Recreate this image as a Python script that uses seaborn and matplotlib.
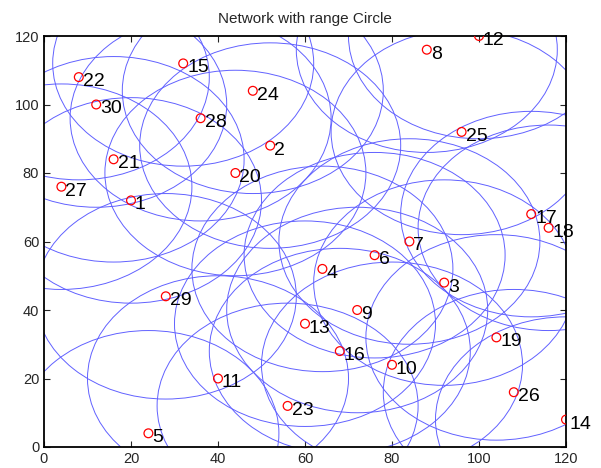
import numpy as np
import pandas as pd
import seaborn as sns
import matplotlib
matplotlib.use("Agg")
import matplotlib.pyplot as plt
from matplotlib.patches import Circle

# Node coordinates (node id = position in the list + 1)
node_x = [20, 52, 92, 64, 24, 76, 84, 88, 72, 80,
          40, 100, 60, 120, 32, 68, 112, 116, 104, 44,
          16, 8, 56, 48, 96, 108, 4, 36, 28, 12]
node_y = [72, 88, 48, 52, 4, 56, 60, 116, 40, 24,
          20, 120, 36, 8, 112, 28, 68, 64, 32, 80,
          84, 108, 12, 104, 92, 16, 76, 96, 44, 100]
node_ids = list(range(1, 31))
comm_range = 30
ticks = [0, 20, 40, 60, 80, 100, 120]

sns.set_style("white")
plt.rcParams['font.family'] = ['Liberation Sans', 'DejaVu Sans']

df = pd.DataFrame({"x": node_x, "y": node_y, "id": node_ids})

fig = plt.figure(figsize=(6.01, 4.68), dpi=100)
ax = fig.add_axes([44 / 601, 21 / 468, 522 / 601, 411 / 468])

# range circle around every node
for x, y in zip(df["x"], df["y"]):
    ax.add_patch(Circle((x, y), comm_range, fill=False, edgecolor=(0.38, 0.38, 1.0),
                        linewidth=0.7, clip_on=True, zorder=1))

sns.scatterplot(data=df, x="x", y="y", ax=ax, marker="o", s=40,
                facecolor="none", edgecolor="red", linewidth=0.9, zorder=3, legend=False)

for x, y, i in zip(df["x"], df["y"], df["id"]):
    ax.text(x + 0.9, y - 2.6, str(i), fontsize=14, ha="left", va="baseline",
            color="black", zorder=4)

ax.set_xlim(0, 120)
ax.set_ylim(0, 120)
ax.set_xticks(ticks)
ax.set_yticks(ticks)
ax.set_xlabel("")
ax.set_ylabel("")
ax.set_title("Network with range Circle", fontsize=11, pad=9)
ax.tick_params(direction="in", length=4, width=0.8, labelsize=10.5,
               top=True, right=True, bottom=True, left=True)
for sp in ax.spines.values():
    sp.set_visible(True)
    sp.set_color("black")
    sp.set_linewidth(1.3)

fig.savefig("out.png", dpi=100)
